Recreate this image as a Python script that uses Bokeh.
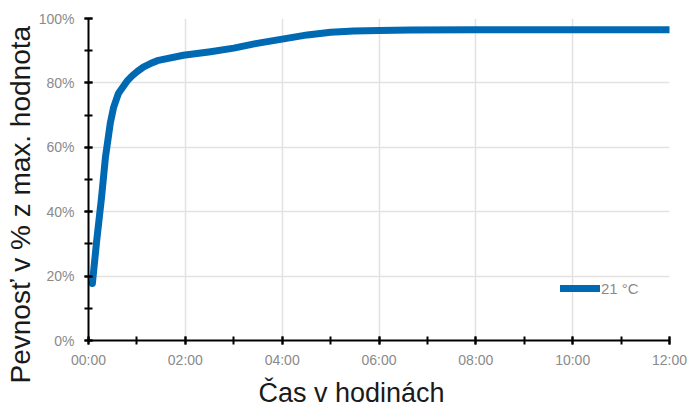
from bokeh.plotting import figure
from bokeh.models import SingleIntervalTicker, Legend, LegendItem, ColumnDataSource, Title
from bokeh.embed import file_html
from bokeh.resources import INLINE

# data: time in hours, strength in % of max value
hours = [0.08, 0.17, 0.27, 0.35, 0.45, 0.52, 0.62, 0.81, 0.9, 1.01, 1.14, 1.28, 1.42,
         1.96, 2.52, 3.0, 3.45, 4.0, 4.52, 5.0, 5.48, 6.0, 6.65, 8.0, 10.0, 12.0]
strength = [17.7, 31.1, 44.5, 56.9, 67.5, 72.5, 76.8, 80.8, 82.2, 83.6, 85.0, 86.0, 86.9,
            88.6, 89.7, 90.8, 92.2, 93.6, 94.9, 95.7, 96.1, 96.3, 96.4, 96.5, 96.5, 96.5]
series_name = "21 °C"
x_title = "Čas v hodinách"
y_title = "Pevnosť v % z max. hodnota"

x_tick_values = [0, 2, 4, 6, 8, 10, 12]
x_tick_labels = ["00:00", "02:00", "04:00", "06:00", "08:00", "10:00", "12:00"]
y_tick_values = [0, 20, 40, 60, 80, 100]
y_tick_labels = ["0%", "20%", "40%", "60%", "80%", "100%"]

FONT = "Liberation Sans"

p = figure(width=689, height=414, output_backend="svg", toolbar_location=None,
           x_range=(0, 12), y_range=(0, 100),
           min_border_left=88, min_border_right=20, min_border_top=18, min_border_bottom=74)
p.outline_line_color = None
p.background_fill_color = "white"
p.border_fill_color = "white"

src = ColumnDataSource(dict(x=hours, y=strength))
r = p.line("x", "y", source=src, line_color="#0069b4", line_width=7,
           line_cap="round", line_join="round")

# axes
p.xaxis.ticker = SingleIntervalTicker(interval=2, num_minor_ticks=2)
p.yaxis.ticker = SingleIntervalTicker(interval=20, num_minor_ticks=2)
p.xaxis.major_label_overrides = dict(zip(x_tick_values, x_tick_labels))
p.yaxis.major_label_overrides = dict(zip(y_tick_values, y_tick_labels))

for ax in (p.xaxis, p.yaxis):
    ax.axis_line_color = "black"
    ax.axis_line_width = 2
    ax.major_tick_line_color = "black"
    ax.major_tick_line_width = 2
    ax.minor_tick_line_color = "black"
    ax.minor_tick_line_width = 2
    ax.major_tick_in = 4
    ax.major_tick_out = 4
    ax.minor_tick_in = 4
    ax.minor_tick_out = 4
    ax.major_label_text_color = "#8a8a8a"
    ax.major_label_text_font = FONT
    ax.major_label_text_font_size = "14px"

p.xaxis.major_label_standoff = 7
p.yaxis.major_label_standoff = 10

# axis titles (centred on the whole chart like the original)
ylab = Title(text=y_title, align="left", offset=-43, standoff=0,
             text_font=FONT, text_font_size="28px", text_font_style="normal",
             text_color="#1a1a1a")
p.add_layout(ylab, "left")
xlab = Title(text=x_title, align="left", offset=170, standoff=11,
             text_font=FONT, text_font_size="27px", text_font_style="normal",
             text_color="#1a1a1a")
p.add_layout(xlab, "below")

p.xgrid.grid_line_color = "#e2e2e2"
p.ygrid.grid_line_color = "#e2e2e2"
p.xgrid.grid_line_width = 1.5
p.ygrid.grid_line_width = 1.5

legend = Legend(items=[LegendItem(label=series_name, renderers=[r])],
                location=(472, 42), padding=0, margin=0, spacing=0,
                glyph_width=40, glyph_height=20, label_standoff=1,
                label_text_font=FONT, label_text_font_size="15px",
                label_text_color="#8a8a8a",
                border_line_color=None, background_fill_alpha=0)
p.add_layout(legend)

open("out.html", "w").write(file_html(p, INLINE))
